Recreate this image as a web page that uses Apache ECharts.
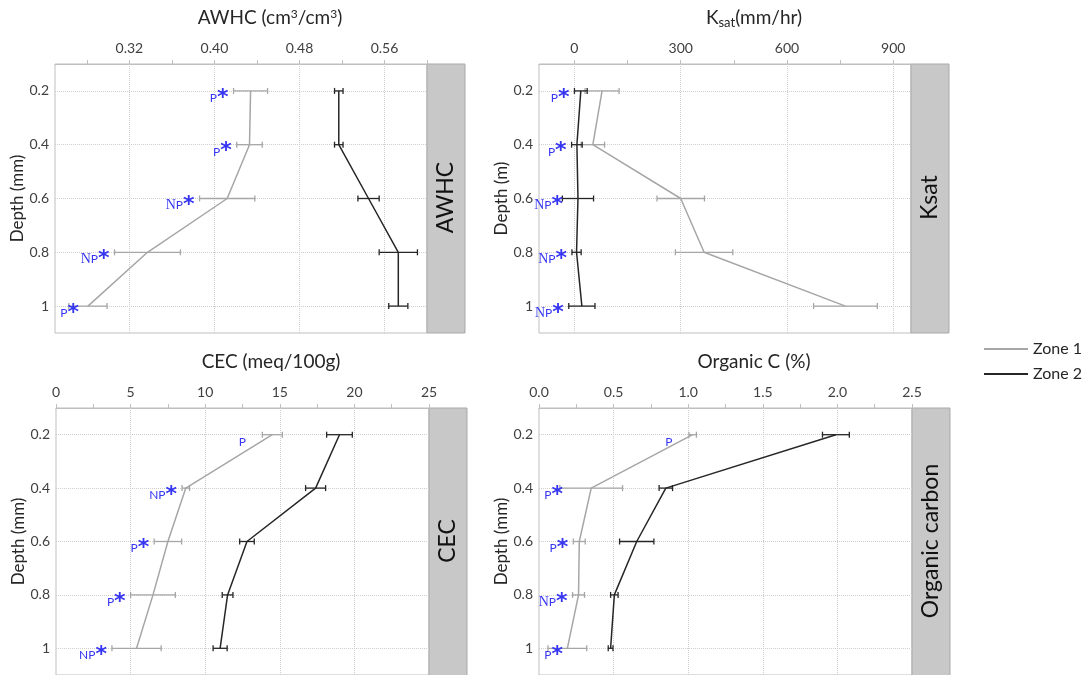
<!DOCTYPE html>
<html>
<head>
<meta charset="utf-8">
<script src="https://cdn.jsdelivr.net/npm/echarts@6/dist/echarts.min.js"></script>
<style>
  html, body { margin: 0; padding: 0; background: #ffffff; }
  #chart { width: 1086px; height: 675px; }
</style>
</head>
<body>
<div id="chart"></div>
<script>
// Soil depth profiles (m), shared by all four panels
const depths = [0.2, 0.4, 0.6, 0.8, 1.0];
const depthTicks = [0.2, 0.4, 0.6, 0.8, 1.0];

// Available water holding capacity (cm3/cm3)
const awhcZone1 = [0.434, 0.433, 0.412, 0.337, 0.281];
const awhcZone1Err = [0.016, 0.012, 0.026, 0.031, 0.018];
const awhcZone2 = [0.517, 0.517, 0.545, 0.573, 0.573];
const awhcZone2Err = [0.004, 0.004, 0.010, 0.018, 0.009];
const awhcNotes = ['P*', 'P*', 'NP*', 'NP*', 'P*'];
const awhcLabels = [0.32, 0.40, 0.48, 0.56];
const awhcTickMarks = [0.28, 0.32, 0.36, 0.40, 0.44, 0.48, 0.52, 0.56, 0.60];

// Saturated hydraulic conductivity (mm/hr)
const ksatZone1 = [78, 52, 300, 366, 765];
const ksatZone1Err = [48, 33, 67, 81, 90];
const ksatZone2 = [18, 7, 10, 6, 21];
const ksatZone2Err = [18, 15, 44, 13, 37];
const ksatNotes = ['P*', 'P*', 'NP*', 'NP*', 'NP*'];
const ksatLabels = [0, 300, 600, 900];
const ksatTickMarks = [0, 150, 300, 450, 600, 750, 900];

// Cation exchange capacity (meq/100g)
const cecZone1 = [14.5, 8.7, 7.5, 6.5, 5.4];
const cecZone1Err = [0.67, 0.25, 0.92, 1.5, 1.65];
const cecZone2 = [19.0, 17.4, 12.8, 11.5, 11.0];
const cecZone2Err = [0.86, 0.67, 0.49, 0.36, 0.47];
const cecNotes = ['P', 'NP*', 'P*', 'P*', 'NP*'];
const cecLabels = [0, 5, 10, 15, 20, 25];
const cecTickMarks = [0, 2.5, 5, 7.5, 10, 12.5, 15, 17.5, 20, 22.5, 25];

// Organic carbon (%)
const ocZone1 = [1.03, 0.35, 0.27, 0.265, 0.19];
const ocZone1Err = [0.025, 0.21, 0.04, 0.04, 0.13];
const ocZone2 = [1.99, 0.85, 0.655, 0.505, 0.48];
const ocZone2Err = [0.09, 0.045, 0.115, 0.025, 0.016];
const ocNotes = ['P', 'P*', 'P*', 'NP*', 'P*'];
const ocLabels = [0.0, 0.5, 1.0, 1.5, 2.0, 2.5];
const ocTickMarks = [0, 0.25, 0.5, 0.75, 1.0, 1.25, 1.5, 1.75, 2.0, 2.25, 2.5];

const zoneNames = ['Zone 1', 'Zone 2'];

const FONT = 'Lato';
const ZONE1_COLOR = '#a6a6a6';
const ZONE2_COLOR = '#262626';
const NOTE_BLUE = '#3535f2';
const TICK_TEXT = '#404040';
const STRIP_W = 38;

const panels = [
  { title: 'AWHC (cm{sup|3}/cm{sup|3})', strip: 'AWHC', yName: 'Depth (mm)',
    box: { left: 55, top: 64, width: 372, height: 269 }, min: 0.25, max: 0.60,
    labels: awhcLabels, ticks: awhcTickMarks, fmt: v => v.toFixed(2), serifN: true,
    z1: awhcZone1, e1: awhcZone1Err, z2: awhcZone2, e2: awhcZone2Err, notes: awhcNotes },
  { title: 'K{sub|sat}(mm/hr)', strip: 'Ksat', yName: 'Depth (m)',
    box: { left: 539, top: 64, width: 372, height: 269 }, min: -100, max: 950,
    labels: ksatLabels, ticks: ksatTickMarks, fmt: v => String(v), serifN: true,
    z1: ksatZone1, e1: ksatZone1Err, z2: ksatZone2, e2: ksatZone2Err, notes: ksatNotes },
  { title: 'CEC (meq/100g)', strip: 'CEC', yName: 'Depth (mm)',
    box: { left: 56, top: 408, width: 373, height: 268 }, min: 0, max: 25,
    labels: cecLabels, ticks: cecTickMarks, fmt: v => String(v), serifN: false,
    z1: cecZone1, e1: cecZone1Err, z2: cecZone2, e2: cecZone2Err, notes: cecNotes },
  { title: 'Organic C (%)', strip: 'Organic carbon', yName: 'Depth (mm)',
    box: { left: 539, top: 408, width: 373, height: 268 }, min: 0, max: 2.5,
    labels: ocLabels, ticks: ocTickMarks, fmt: v => v.toFixed(1), serifN: true,
    z1: ocZone1, e1: ocZone1Err, z2: ocZone2, e2: ocZone2Err, notes: ocNotes }
];

function noteRich(serifN) {
  return {
    n: { fontFamily: serifN ? 'Liberation Serif' : FONT, fontSize: serifN ? 14 : 12, fill: NOTE_BLUE },
    p: { fontFamily: FONT, fontSize: 12, fill: NOTE_BLUE },
    s: { fontFamily: 'DejaVu Sans', fontSize: 22, fontWeight: 'bold', fill: NOTE_BLUE },
    h: { fontFamily: 'DejaVu Sans', fontSize: 22, fontWeight: 'bold', fill: 'rgba(0,0,0,0)' }
  };
}

function noteText(note) {
  const star = note.endsWith('*');
  const letters = note.replace('*', '');
  const s = letters === 'NP' ? '{n|N}{p|P}' : '{p|P}';
  return s + (star ? '{s|*}' : '{h|*}');
}

function errorBarSeries(idx, values, errs, color) {
  return {
    type: 'custom', xAxisIndex: idx, yAxisIndex: idx, silent: true, z: 3,
    data: depths.map((d, i) => [values[i] - errs[i], values[i] + errs[i], d]),
    encode: { x: [0, 1], y: 2 },
    renderItem(params, api) {
      const lo = api.coord([api.value(0), api.value(2)]);
      const hi = api.coord([api.value(1), api.value(2)]);
      const cap = 3;
      const st = { stroke: color, lineWidth: 1.3 };
      return {
        type: 'group',
        children: [
          { type: 'line', shape: { x1: lo[0], y1: lo[1], x2: hi[0], y2: hi[1] }, style: st },
          { type: 'line', shape: { x1: lo[0], y1: lo[1] - cap, x2: lo[0], y2: lo[1] + cap }, style: st },
          { type: 'line', shape: { x1: hi[0], y1: hi[1] - cap, x2: hi[0], y2: hi[1] + cap }, style: st }
        ]
      };
    }
  };
}

// Significance notes: just left of the leftmost error bar at each depth,
// but never closer than a small inset from the plot's left edge
function noteSeries(idx, pn) {
  const rich = noteRich(pn.serifN);
  return {
    type: 'custom', xAxisIndex: idx, yAxisIndex: idx, silent: true, z: 4,
    data: depths.map((d, i) => [Math.min(pn.z1[i] - pn.e1[i], pn.z2[i] - pn.e2[i]), d]),
    encode: { x: 0, y: 1 },
    renderItem(params, api) {
      const a = api.coord([api.value(0), api.value(1)]);
      const x = Math.max(a[0] - 5, params.coordSys.x + 24);
      return {
        type: 'text', x: x, y: a[1] + 7,
        style: { text: noteText(pn.notes[params.dataIndex]), rich: rich,
                 align: 'right', verticalAlign: 'middle' }
      };
    }
  };
}

const grids = [], xAxes = [], yAxes = [], series = [], graphics = [];

panels.forEach((pn, k) => {
  grids.push(Object.assign({ show: true, borderColor: '#bfbfbf', borderWidth: 1,
                             backgroundColor: '#ffffff' }, pn.box));
  xAxes.push({
    type: 'value', gridIndex: k, position: 'top', min: pn.min, max: pn.max,
    axisLine: { show: true, lineStyle: { color: '#bfbfbf' } },
    axisTick: { show: true, length: 4, inside: false, customValues: pn.ticks,
                lineStyle: { color: '#bfbfbf' } },
    axisLabel: { customValues: pn.labels, formatter: pn.fmt, margin: 9,
                 fontFamily: FONT, fontSize: 14, color: TICK_TEXT },
    splitLine: { show: false }
  });
  yAxes.push({
    type: 'value', gridIndex: k, inverse: true, min: 0.1, max: 1.1,
    name: pn.yName, nameLocation: 'middle', nameRotate: 90, nameGap: 28,
    nameTextStyle: { fontFamily: FONT, fontSize: 17, color: '#262626' },
    axisLine: { show: false }, axisTick: { show: false, customValues: depthTicks },
    axisLabel: { customValues: depthTicks, margin: 6, fontFamily: FONT, fontSize: 14, color: TICK_TEXT,
                 formatter: v => (v === 1 ? '1' : v.toFixed(1)) },
    splitLine: { show: false }
  });

  // Dotted reference lines at labelled values
  const inner = pn.labels.filter(v => v > pn.min && v < pn.max);
  series.push({
    type: 'line', name: zoneNames[0], xAxisIndex: k, yAxisIndex: k, z: 2,
    data: depths.map((d, i) => [pn.z1[i], d]),
    symbol: 'none', lineStyle: { color: ZONE1_COLOR, width: 1.5 }, itemStyle: { color: ZONE1_COLOR },
    markLine: {
      silent: true, symbol: 'none', z: 1, animation: false, label: { show: false },
      lineStyle: { type: 'dotted', color: '#cfcfcf', width: 1 },
      emphasis: { disabled: true },
      data: inner.map(v => ({ xAxis: v })).concat(depthTicks.map(d => ({ yAxis: d })))
    }
  });
  series.push({
    type: 'line', name: zoneNames[1], xAxisIndex: k, yAxisIndex: k, z: 2,
    data: depths.map((d, i) => [pn.z2[i], d]),
    symbol: 'none', lineStyle: { color: ZONE2_COLOR, width: 1.5 }, itemStyle: { color: ZONE2_COLOR }
  });
  series.push(errorBarSeries(k, pn.z1, pn.e1, ZONE1_COLOR));
  series.push(errorBarSeries(k, pn.z2, pn.e2, ZONE2_COLOR));
  series.push(noteSeries(k, pn));

  // Panel title and side strip
  const b = pn.box;
  graphics.push({
    type: 'text', x: b.left + 215, y: b.top - 46,
    style: {
      text: pn.title, align: 'center', verticalAlign: 'middle',
      fontFamily: FONT, fontSize: 19, fill: '#262626',
      rich: {
        sup: { fontFamily: FONT, fontSize: 12, fill: '#262626', verticalAlign: 'top', padding: [0, 0, 8, 0] },
        sub: { fontFamily: FONT, fontSize: 13, fill: '#262626', verticalAlign: 'bottom', padding: [9, 0, 0, 0] }
      }
    }
  });
  graphics.push({
    type: 'rect',
    shape: { x: b.left + b.width, y: b.top, width: STRIP_W, height: b.height },
    style: { fill: '#c8c8c8', stroke: '#a9a9a9', lineWidth: 1 }
  });
  graphics.push({
    type: 'text', x: b.left + b.width + STRIP_W / 2, y: b.top + b.height / 2 - 1,
    rotation: Math.PI / 2,
    style: { text: pn.strip, align: 'center', verticalAlign: 'middle',
             fontFamily: FONT, fontSize: 23, fill: '#111111' }
  });
});

const chart = echarts.init(document.getElementById('chart'), null, { renderer: 'canvas' });
chart.setOption({
  animation: false,
  backgroundColor: '#ffffff',
  grid: grids,
  xAxis: xAxes,
  yAxis: yAxes,
  legend: {
    data: zoneNames, orient: 'vertical', left: 979, top: 336,
    icon: 'rect', itemWidth: 44, itemHeight: 2, itemGap: 9,
    textStyle: { fontFamily: FONT, fontSize: 16, color: '#262626' }
  },
  graphic: graphics,
  series: series
});
</script>
</body>
</html>
